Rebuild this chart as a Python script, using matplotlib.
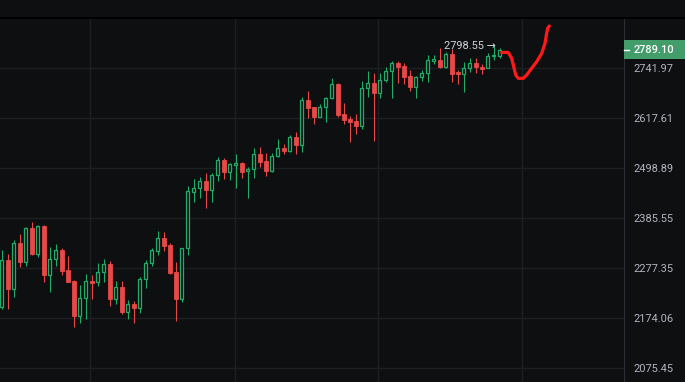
import numpy as np
import matplotlib.pyplot as plt
from matplotlib.patches import Rectangle
from matplotlib.ticker import FixedLocator, FixedFormatter, NullLocator
from matplotlib.transforms import blended_transform_factory

# OHLC (one candle per bar)
opens = [2197.5, 2294.9, 2234.2, 2332.4, 2291.3, 2363.4, 2306.9, 2368.5, 2263.8, 2296.4,
         2316.0, 2273.8, 2250.5, 2178.7, 2214.4, 2250.5, 2247.8, 2268.9, 2286.4, 2212.4,
         2237.2, 2187.4, 2202.3, 2195.5, 2254.1, 2287.9, 2314.6, 2341.3, 2326.6, 2270.2,
         2212.4, 2319.6, 2444.6, 2452.5, 2469.4, 2448.5, 2482.7, 2518.1, 2491.0, 2507.2,
         2510.5, 2491.9, 2496.6, 2531.4, 2515.8, 2493.3, 2528.1, 2545.3, 2539.7, 2571.4,
         2553.5, 2662.1, 2644.3, 2621.5, 2644.3, 2666.2, 2702.0, 2628.1, 2615.9, 2611.0,
         2598.9, 2691.1, 2703.8, 2679.9, 2711.4, 2735.9, 2754.7, 2747.8, 2722.4, 2693.6,
         2719.1, 2729.2, 2760.6, 2763.1, 2746.0, 2778.4, 2731.8, 2726.2, 2741.5, 2756.7,
         2744.5, 2743.5, 2772.5, 2774.0]
highs = [2316.0, 2306.9, 2339.0, 2350.8, 2366.9, 2378.0, 2370.7, 2370.7, 2323.0, 2328.7,
         2321.7, 2303.4, 2252.6, 2242.0, 2264.7, 2263.2, 2287.9, 2297.0, 2293.4, 2250.5,
         2250.5, 2211.0, 2209.0, 2258.3, 2294.9, 2320.9, 2357.4, 2355.2, 2331.5, 2291.3,
         2320.5, 2457.8, 2473.4, 2479.4, 2488.7, 2487.3, 2525.8, 2522.1, 2511.9, 2532.1,
         2514.2, 2502.6, 2545.3, 2549.0, 2533.7, 2533.7, 2567.3, 2556.9, 2577.0, 2585.0,
         2670.1, 2684.2, 2645.5, 2651.6, 2670.1, 2716.5, 2703.8, 2654.1, 2623.2, 2628.1,
         2709.6, 2735.1, 2729.2, 2730.8, 2746.0, 2760.6, 2760.6, 2756.2, 2737.6, 2722.4,
         2737.6, 2775.8, 2775.8, 2793.0, 2782.7, 2792.0, 2737.6, 2758.8, 2769.5, 2768.2,
         2753.7, 2780.1, 2798.55, 2794.4]
lows = [2192.8, 2192.8, 2217.7, 2280.7, 2282.8, 2305.0, 2301.9, 2249.0, 2227.9, 2282.2,
        2263.2, 2248.0, 2157.1, 2165.2, 2172.0, 2213.0, 2240.6, 2249.0, 2198.9, 2202.9,
        2182.7, 2172.6, 2164.0, 2185.4, 2236.3, 2282.2, 2304.8, 2314.6, 2265.3, 2169.2,
        2207.6, 2305.5, 2422.3, 2429.9, 2408.4, 2422.3, 2470.1, 2473.4, 2471.7, 2452.5,
        2477.1, 2431.2, 2475.7, 2502.6, 2481.0, 2491.0, 2525.8, 2532.1, 2537.4, 2532.1,
        2537.4, 2617.6, 2603.8, 2620.0, 2609.3, 2664.5, 2621.5, 2603.8, 2560.7, 2579.5,
        2592.3, 2670.1, 2563.2, 2667.7, 2707.9, 2666.2, 2705.3, 2701.2, 2685.0, 2668.6,
        2710.4, 2706.3, 2752.9, 2742.0, 2743.5, 2707.9, 2701.2, 2681.7, 2731.3, 2730.0,
        2726.7, 2742.0, 2763.1, 2767.4]
closes = [2294.9, 2233.6, 2332.4, 2291.3, 2363.4, 2306.9, 2368.5, 2263.8, 2296.4, 2316.0,
          2272.3, 2249.0, 2178.7, 2215.0, 2250.5, 2246.9, 2268.9, 2285.8, 2212.4, 2237.2,
          2187.4, 2202.3, 2195.5, 2254.1, 2287.9, 2316.0, 2341.3, 2325.1, 2268.0, 2212.4,
          2319.6, 2446.2, 2452.5, 2469.4, 2448.5, 2483.3, 2518.1, 2491.0, 2508.2, 2510.5,
          2491.0, 2496.6, 2531.4, 2514.2, 2493.3, 2528.6, 2545.3, 2539.7, 2571.4, 2552.7,
          2662.1, 2643.4, 2621.5, 2644.3, 2666.2, 2702.0, 2625.6, 2613.5, 2608.6, 2599.6,
          2691.1, 2703.8, 2679.9, 2711.4, 2735.9, 2754.7, 2746.0, 2720.6, 2693.6, 2719.1,
          2729.2, 2763.1, 2764.9, 2746.0, 2778.4, 2728.7, 2726.2, 2743.5, 2756.7, 2744.0,
          2741.0, 2773.3, 2775.8, 2789.10]

# price scale labels
price_ticks = [2075.45, 2174.06, 2277.35, 2385.55, 2498.89, 2617.61, 2741.97]
# time grid (bar positions of the vertical grid lines)
time_grid_at = [14.72, 38.88, 62.72, 86.72]

# red freehand sketch after the last bar (bar index, price)
sketch_x = [83.33, 84.43, 85.0, 85.27, 85.67, 86.1, 86.93, 87.5, 88.33, 89.17, 90.0, 90.55, 90.83, 91.0, 91.27]
sketch_y = [2782.7, 2782.7, 2767.4, 2750.4, 2724.9, 2716.5, 2716.5, 2724.9, 2742.0, 2758.8, 2780.1, 2806.4, 2832.5, 2845.7, 2851.8]

bg = '#0e0f11'
green = '#1fae6a'
red = '#e84848'
grid_c = '#1d1f23'
font = ['Roboto', 'DejaVu Sans']
plt.rcParams['font.family'] = font

fig = plt.figure(figsize=(6.85, 3.82), dpi=100, facecolor=bg)
ax = fig.add_axes([0, 0, 624 / 685, 364 / 382])
ax.set_facecolor(bg)

o = np.array(opens); h = np.array(highs); l = np.array(lows); c = np.array(closes)
x = np.arange(len(o))
up = c >= o

ax.vlines(x[up], l[up], h[up], color=green, lw=0.8, zorder=2)
ax.vlines(x[~up], l[~up], h[~up], color=red, lw=0.8, zorder=2)
ax.bar(x[up], c[up] - o[up], bottom=o[up], width=0.6, facecolor=bg, edgecolor=green, lw=0.9, zorder=3)
ax.bar(x[~up], o[~up] - c[~up], bottom=c[~up], width=0.64, color=red, edgecolor=red, lw=0.6, zorder=3)

ax.plot(sketch_x, sketch_y, color='#ff1a1a', lw=2.3, solid_capstyle='round', solid_joinstyle='round', zorder=4)

ax.set_yscale('log')
ymin, ymax = 2049.2, 2873.0
ax.set_ylim(ymin, ymax)
ax.set_xlim(-0.283, 103.72)
ax.yaxis.set_major_locator(FixedLocator(price_ticks))
ax.yaxis.set_major_formatter(FixedFormatter([f'{p:.2f}' for p in price_ticks]))
ax.yaxis.set_minor_locator(NullLocator())
ax.yaxis.tick_right()
ax.tick_params(axis='y', length=0, pad=7, labelcolor='#b2b5be', labelsize=7.9)
ax.set_xticks(time_grid_at)
ax.tick_params(axis='x', length=0, labelbottom=False)
ax.grid(True, color=grid_c, lw=1)
ax.set_axisbelow(True)

for s in ['left', 'bottom', 'top']:
    ax.spines[s].set_visible(False)
ax.spines['right'].set_color('#2a2e35')

# dark separator line above the pane, across the full width
fig.add_artist(plt.Line2D([0, 1], [364.5 / 382, 364.5 / 382], transform=fig.transFigure,
                          color='#000000', lw=1.3))

# highest high marker
hi = int(np.argmax(h))
ax.text(hi + 0.4, h[hi], f'{h[hi]:.2f} \u2192', ha='right', va='center',
        color='#d1d4dc', fontsize=7.9, zorder=5)

# last price tag on the scale
trans = blended_transform_factory(ax.transAxes, ax.transData)
k = np.log(ymax / ymin) / 364
last = c[-1]
ax.add_patch(Rectangle((1.0, last * np.exp(-9.5 * k)), 61 / 624,
                       last * (np.exp(9.5 * k) - np.exp(-9.5 * k)),
                       transform=trans, facecolor='#439d6b', edgecolor='none', clip_on=False, zorder=6))
ax.plot([1.0, 1.0 + 5 / 624], [last, last], transform=trans, color='white', lw=1, clip_on=False, zorder=7)
ax.text(1.0 + 10 / 624, last, f'{last:.2f}', transform=trans, ha='left', va='center',
        color='white', fontsize=7.9, fontweight='medium', clip_on=False, zorder=7)

fig.savefig('out.png', dpi=100, facecolor=bg)
